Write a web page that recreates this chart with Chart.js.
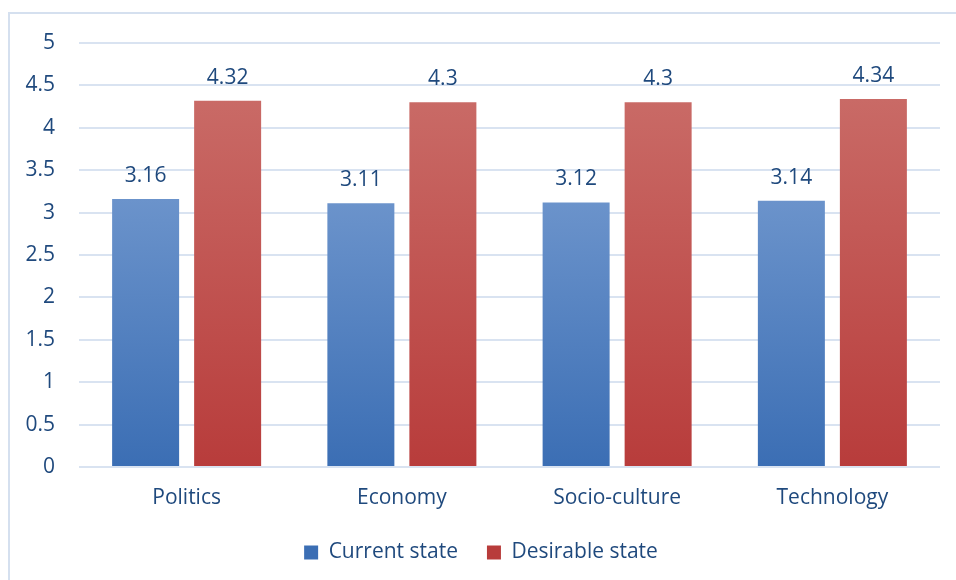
<!DOCTYPE html>
<html>
<head>
<meta charset="utf-8">
<script src="https://cdn.jsdelivr.net/npm/chart.js@4"></script>
<style>
  html, body { margin: 0; padding: 0; background: #fff; }
  #wrap { width: 956px; height: 580px; position: relative; }
</style>
</head>
<body>
<div id="wrap"><canvas id="chart" width="956" height="580"></canvas></div>
<script>
const categories = ['Politics', 'Economy', 'Socio-culture', 'Technology'];
const currentState = [3.16, 3.11, 3.12, 3.14];
const desirableState = [4.32, 4.3, 4.3, 4.34];
const seriesNames = ['Current state', 'Desirable state'];

const textColor = '#1f497d';
const gridColor = '#d9e3f1';
const fontFamily = '"Open Sans", "Liberation Sans", sans-serif';
const fontSize = 21;

// vertical gradient per bar, lighter at the top like the Office style
function barGradient(topColor, bottomColor, flatColor) {
    return (ctx) => {
        const chart = ctx.chart;
        if (!chart.chartArea || ctx.type !== 'data') return flatColor;
        const y = chart.scales.y;
        const g = chart.ctx.createLinearGradient(0, y.getPixelForValue(ctx.raw), 0, y.getPixelForValue(0));
        g.addColorStop(0, topColor);
        g.addColorStop(1, bottomColor);
        return g;
    };
}

// outer frame of the figure (only left and top edges are in view)
const framePlugin = {
    id: 'frame',
    beforeDraw(chart) {
        const c = chart.ctx;
        c.save();
        c.strokeStyle = '#d5e0ef';
        c.lineWidth = 2;
        c.beginPath();
        c.moveTo(9, chart.height);
        c.lineTo(9, 13);
        c.lineTo(chart.width, 13);
        c.stroke();
        c.restore();
    }
};

// value labels above each bar
const valueLabels = {
    id: 'valueLabels',
    afterDatasetsDraw(chart) {
        const c = chart.ctx;
        c.save();
        c.font = fontSize + 'px ' + fontFamily;
        c.fillStyle = textColor;
        c.textAlign = 'center';
        c.textBaseline = 'alphabetic';
        chart.data.datasets.forEach((ds, i) => {
            chart.getDatasetMeta(i).data.forEach((bar, j) => {
                c.fillText(String(ds.data[j]), bar.x, bar.y - 17);
            });
        });
        c.restore();
    }
};

new Chart(document.getElementById('chart'), {
    type: 'bar',
    data: {
        labels: categories,
        datasets: [{
            label: seriesNames[0],
            data: currentState,
            backgroundColor: barGradient('#6b93cb', '#3b6eb4', '#5482c2'),
            barPercentage: 0.817,
            categoryPercentage: 0.762
        }, {
            label: seriesNames[1],
            data: desirableState,
            backgroundColor: barGradient('#c96a66', '#b83c3b', '#c25350'),
            barPercentage: 0.817,
            categoryPercentage: 0.762
        }]
    },
    options: {
        responsive: false,
        animation: false,
        layout: { padding: { top: 43, right: 16, left: 22, bottom: 7 } },
        scales: {
            y: {
                min: 0,
                max: 5,
                ticks: {
                    stepSize: 0.5,
                    color: textColor,
                    padding: 24,
                    font: { family: fontFamily, size: fontSize },
                    callback: (v) => String(v)
                },
                grid: { color: gridColor, lineWidth: 2, drawTicks: false },
                border: { display: false },
                afterFit(scale) { scale.width = 57; }
            },
            x: {
                ticks: {
                    color: textColor,
                    padding: 18,
                    font: { family: fontFamily, size: fontSize }
                },
                grid: { display: false, drawTicks: false },
                border: { display: false },
                afterFit(scale) { scale.height = 46; }
            }
        },
        plugins: {
            legend: {
                position: 'bottom',
                labels: {
                    color: textColor,
                    boxWidth: 14,
                    boxHeight: 14,
                    padding: 29,
                    font: { family: fontFamily, size: fontSize }
                }
            },
            tooltip: { enabled: false }
        }
    },
    plugins: [framePlugin, valueLabels]
});
</script>
</body>
</html>
